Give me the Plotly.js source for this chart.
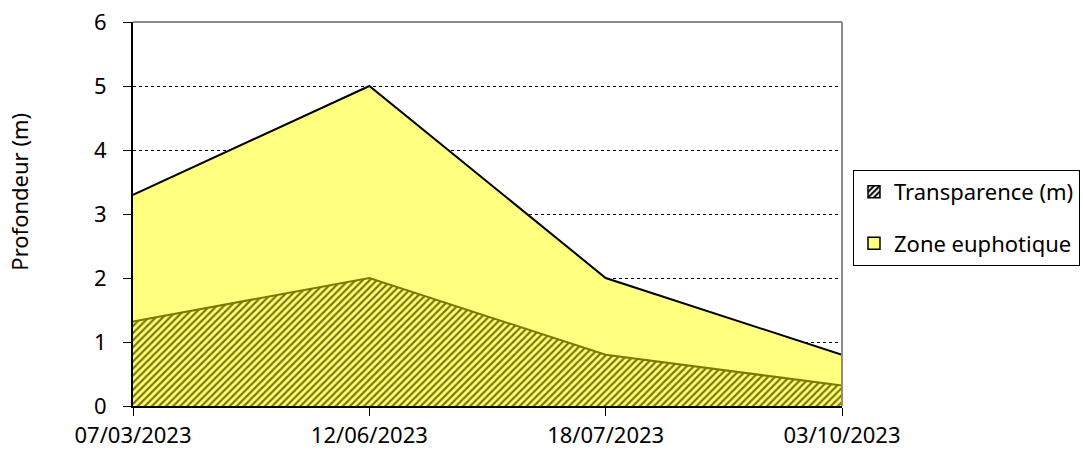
<!DOCTYPE html>
<html>
<head>
<meta charset="utf-8">
<script src="https://cdn.plot.ly/plotly-3.0.1.min.js"></script>
<style>html,body{margin:0;padding:0;background:#fff;}#chart{width:1083px;height:450px;}</style>
</head>
<body>
<div id="chart"></div>
<script>
var dates = ["07/03/2023", "12/06/2023", "18/07/2023", "03/10/2023"];
var zoneEuphotique = [3.3, 5.0, 2.0, 0.8];
var transparence = [1.32, 2.0, 0.8, 0.32];
var yTicks = [0, 1, 2, 3, 4, 5, 6];
var yTitle = "Profondeur (m)";

var FONT = "Noto Sans, Open Sans, sans-serif";
var FS = 22;

var traces = [
  {
    x: dates, y: zoneEuphotique, name: "Zone euphotique",
    type: "scatter", mode: "lines", fill: "tozeroy",
    fillcolor: "#FFFF80", line: {color: "#000000", width: 2},
    showlegend: false, hoverinfo: "skip"
  },
  {
    x: dates, y: transparence, name: "Transparence (m)",
    type: "scatter", mode: "lines", fill: "tozeroy",
    fillcolor: "#FFFF80",
    fillpattern: {shape: "/", fgcolor: "#7A7A00", bgcolor: "#FFFF80", size: 5, solidity: 0.45},
    line: {color: "#7A7A00", width: 2},
    showlegend: false, hoverinfo: "skip"
  },
  // legend-only entries (no drawn marks)
  {
    x: [dates[0]], y: [null], name: "Transparence (m)", type: "bar",
    marker: {color: "#ffffff", line: {color: "#000000", width: 1.5},
             pattern: {shape: "/", fgcolor: "#000000", bgcolor: "#ffffff", size: 5, solidity: 0.5}},
    legendgroup: "a", legendrank: 1, hoverinfo: "skip"
  },
  {
    x: [dates[0]], y: [null], name: "Zone euphotique", type: "bar",
    marker: {color: "#FFFF80", line: {color: "#000000", width: 1.5}},
    legendgroup: "b", legendrank: 2, hoverinfo: "skip"
  }
];

var layout = {
  width: 1083, height: 450,
  margin: {l: 133, r: 241, t: 22, b: 44, autoexpand: false},
  paper_bgcolor: "#ffffff", plot_bgcolor: "#ffffff",
  font: {family: FONT, size: FS, color: "#000000"},
  showlegend: true,
  legend: {
    x: 1.0155, y: 0.615, xanchor: "left", yanchor: "top",
    bordercolor: "#000000", borderwidth: 1, bgcolor: "#ffffff",
    font: {family: FONT, size: FS, color: "#000000"},
    tracegroupgap: 20, itemwidth: 30
  },
  xaxis: {
    type: "category", range: [0, 3],
    showgrid: false, zeroline: false,
    showline: true, linecolor: "#000000", linewidth: 2,
    ticks: "outside", ticklen: 8, tickcolor: "#000000", tickwidth: 1,
    ticklabelstandoff: 1,
    tickfont: {family: FONT, size: FS}
  },
  yaxis: {
    range: [0, 6], tickvals: yTicks,
    showgrid: true, gridcolor: "#000000", griddash: "dot", gridwidth: 1,
    zeroline: false,
    showline: true, linecolor: "#000000", linewidth: 2,
    ticks: "outside", ticklen: 8, tickcolor: "#000000", tickwidth: 1,
    ticklabelstandoff: 12,
    tickfont: {family: FONT, size: FS}
  },
  annotations: [
    {text: yTitle, xref: "paper", yref: "paper", x: -0.16, y: 0.557,
     xanchor: "center", yanchor: "middle", textangle: -90, showarrow: false,
     font: {family: FONT, size: FS, color: "#000000"}}
  ],
  shapes: [
    {type: "line", xref: "paper", yref: "paper", x0: 0, x1: 1, y0: 1, y1: 1, line: {color: "#8c8c8c", width: 2}},
    {type: "line", xref: "paper", yref: "paper", x0: 1, x1: 1, y0: 0, y1: 1, line: {color: "#8c8c8c", width: 2}}
  ]
};

Plotly.newPlot("chart", traces, layout, {displayModeBar: false, staticPlot: true});
</script>
</body>
</html>
